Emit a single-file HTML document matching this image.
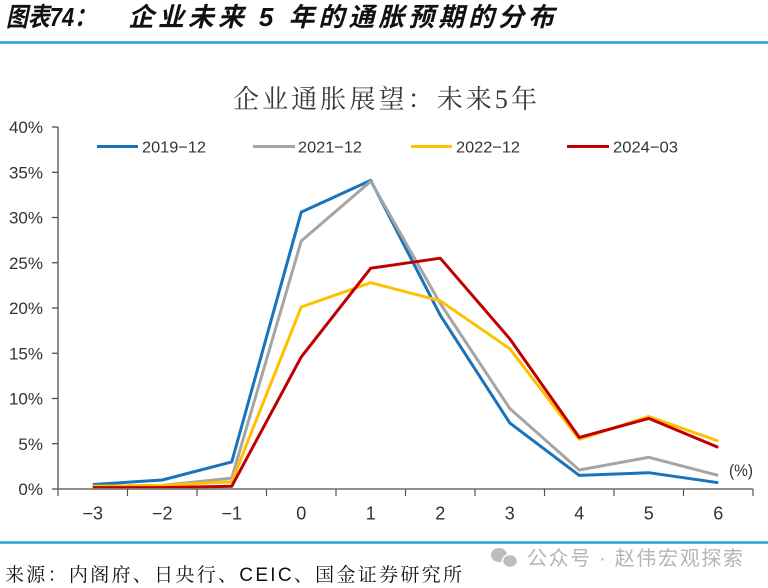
<!DOCTYPE html>
<html>
<head>
<meta charset="utf-8">
<style>
html,body{margin:0;padding:0;background:#fff;}
svg{display:block;}
</style>
</head>
<body>
<svg width="768" height="588" viewBox="0 0 768 588" xmlns="http://www.w3.org/2000/svg">
  <rect width="768" height="588" fill="#fff"/>
  <!-- Main title -->
  <text x="6" y="26" font-family="'Liberation Sans','Noto Sans CJK SC',sans-serif" font-size="26" font-weight="bold" font-style="italic" fill="#111" textLength="90" lengthAdjust="spacingAndGlyphs">图表74：</text>
  <text x="128" y="26" font-family="'Liberation Sans','Noto Sans CJK SC',sans-serif" font-size="26" font-weight="bold" font-style="italic" fill="#111" textLength="426" lengthAdjust="spacing">企业未来 5 年的通胀预期的分布</text>
  <line x1="0" y1="42.5" x2="768" y2="42.5" stroke="#1ea7d6" stroke-width="2.5"/>

  <!-- Chart title -->
  <text x="233" y="108" font-family="'Liberation Serif','Noto Serif CJK SC',serif" font-size="26" fill="#3a3a3a" textLength="304" lengthAdjust="spacing">企业通胀展望：未来5年</text>

  <!-- Legend -->
  <g font-family="'Liberation Sans',sans-serif" font-size="16" fill="#333">
    <line x1="97" y1="146.5" x2="138" y2="146.5" stroke="#1874bd" stroke-width="3"/>
    <text x="142" y="152.5" textLength="64" lengthAdjust="spacingAndGlyphs">2019−12</text>
    <line x1="253" y1="146.5" x2="295" y2="146.5" stroke="#a5a5a5" stroke-width="3"/>
    <text x="298" y="152.5" textLength="64" lengthAdjust="spacingAndGlyphs">2021−12</text>
    <line x1="411" y1="146.5" x2="452" y2="146.5" stroke="#ffc000" stroke-width="3"/>
    <text x="456" y="152.5" textLength="64" lengthAdjust="spacingAndGlyphs">2022−12</text>
    <line x1="567" y1="146.5" x2="609" y2="146.5" stroke="#c00000" stroke-width="3"/>
    <text x="613" y="152.5" textLength="65" lengthAdjust="spacingAndGlyphs">2024−03</text>
  </g>

  <!-- Y axis -->
  <g stroke="#444" stroke-width="1.2">
    <line x1="58" y1="127" x2="58" y2="489"/>
    <line x1="52" y1="127" x2="58" y2="127"/>
    <line x1="52" y1="172.25" x2="58" y2="172.25"/>
    <line x1="52" y1="217.5" x2="58" y2="217.5"/>
    <line x1="52" y1="262.75" x2="58" y2="262.75"/>
    <line x1="52" y1="308" x2="58" y2="308"/>
    <line x1="52" y1="353.25" x2="58" y2="353.25"/>
    <line x1="52" y1="398.5" x2="58" y2="398.5"/>
    <line x1="52" y1="443.75" x2="58" y2="443.75"/>
    <line x1="52" y1="489" x2="58" y2="489"/>
  </g>
  <g font-family="'Liberation Sans',sans-serif" font-size="17" fill="#333" text-anchor="end">
    <text x="43" y="133">40%</text>
    <text x="43" y="178.25">35%</text>
    <text x="43" y="223.5">30%</text>
    <text x="43" y="268.75">25%</text>
    <text x="43" y="314">20%</text>
    <text x="43" y="359.25">15%</text>
    <text x="43" y="404.5">10%</text>
    <text x="43" y="449.75">5%</text>
    <text x="43" y="495">0%</text>
  </g>

  <!-- Series -->
  <g fill="none" stroke-width="3" stroke-linejoin="round" stroke-linecap="butt">
    <polyline stroke="#1874bd" points="92.75,484.5 162.25,480 231.75,461.9 301.25,212.1 370.75,180.4 440.25,315.2 509.75,422.9 579.25,475.4 648.75,472.7 718.25,482.7"/>
    <polyline stroke="#a5a5a5" points="92.75,486.3 162.25,485.4 231.75,478.1 301.25,241 370.75,181.3 440.25,303.5 509.75,408.5 579.25,470 648.75,457.3 718.25,475.4"/>
    <polyline stroke="#ffc000" points="92.75,486.3 162.25,485.4 231.75,481.8 301.25,307 370.75,282.7 440.25,300.8 509.75,348.7 579.25,439.2 648.75,416.6 718.25,441"/>
    <polyline stroke="#c00000" points="92.75,487.6 162.25,487.6 231.75,486.3 301.25,356.9 370.75,268.2 440.25,258.2 509.75,338.8 579.25,437.4 648.75,418.4 718.25,447.4"/>
  </g>

  <!-- X axis -->
  <line x1="58" y1="489" x2="753" y2="489" stroke="#7f7f7f" stroke-width="1.8"/>
  <g stroke="#555" stroke-width="1.2">
    <line x1="58" y1="489" x2="58" y2="496"/>
    <line x1="127.5" y1="489" x2="127.5" y2="496"/>
    <line x1="197" y1="489" x2="197" y2="496"/>
    <line x1="266.5" y1="489" x2="266.5" y2="496"/>
    <line x1="336" y1="489" x2="336" y2="496"/>
    <line x1="405.5" y1="489" x2="405.5" y2="496"/>
    <line x1="475" y1="489" x2="475" y2="496"/>
    <line x1="544.5" y1="489" x2="544.5" y2="496"/>
    <line x1="614" y1="489" x2="614" y2="496"/>
    <line x1="683.5" y1="489" x2="683.5" y2="496"/>
    <line x1="753" y1="489" x2="753" y2="496"/>
  </g>
  <g font-family="'Liberation Sans',sans-serif" font-size="18" fill="#333" text-anchor="middle">
    <text x="92.75" y="519.5">−3</text>
    <text x="162.25" y="519.5">−2</text>
    <text x="231.75" y="519.5">−1</text>
    <text x="301.25" y="519.5">0</text>
    <text x="370.75" y="519.5">1</text>
    <text x="440.25" y="519.5">2</text>
    <text x="509.75" y="519.5">3</text>
    <text x="579.25" y="519.5">4</text>
    <text x="648.75" y="519.5">5</text>
    <text x="718.25" y="519.5">6</text>
  </g>
  <text x="729" y="476" font-family="'Liberation Sans',sans-serif" font-size="17" fill="#333" textLength="24" lengthAdjust="spacingAndGlyphs">(%)</text>

  <!-- Footer -->
  <line x1="0" y1="542.5" x2="768" y2="542.5" stroke="#1ea7d6" stroke-width="2.5"/>
  <text x="5" y="581" font-family="'Liberation Sans','Noto Serif CJK SC',serif" font-size="19" fill="#111" textLength="457" lengthAdjust="spacing">来源：内阁府、日央行、CEIC、国金证券研究所</text>

  <!-- Watermark -->
  <g fill="#bdbdbd">
    <ellipse cx="499" cy="555" rx="8" ry="7"/>
    <ellipse cx="510" cy="561" rx="7.5" ry="6.5" stroke="#fff" stroke-width="1.5"/>
  </g>
  <text x="527" y="565" font-family="'Liberation Sans','Noto Sans CJK SC',sans-serif" font-size="20" fill="#b5b5b5" textLength="216" lengthAdjust="spacing">公众号 · 赵伟宏观探索</text>
</svg>
</body>
</html>
